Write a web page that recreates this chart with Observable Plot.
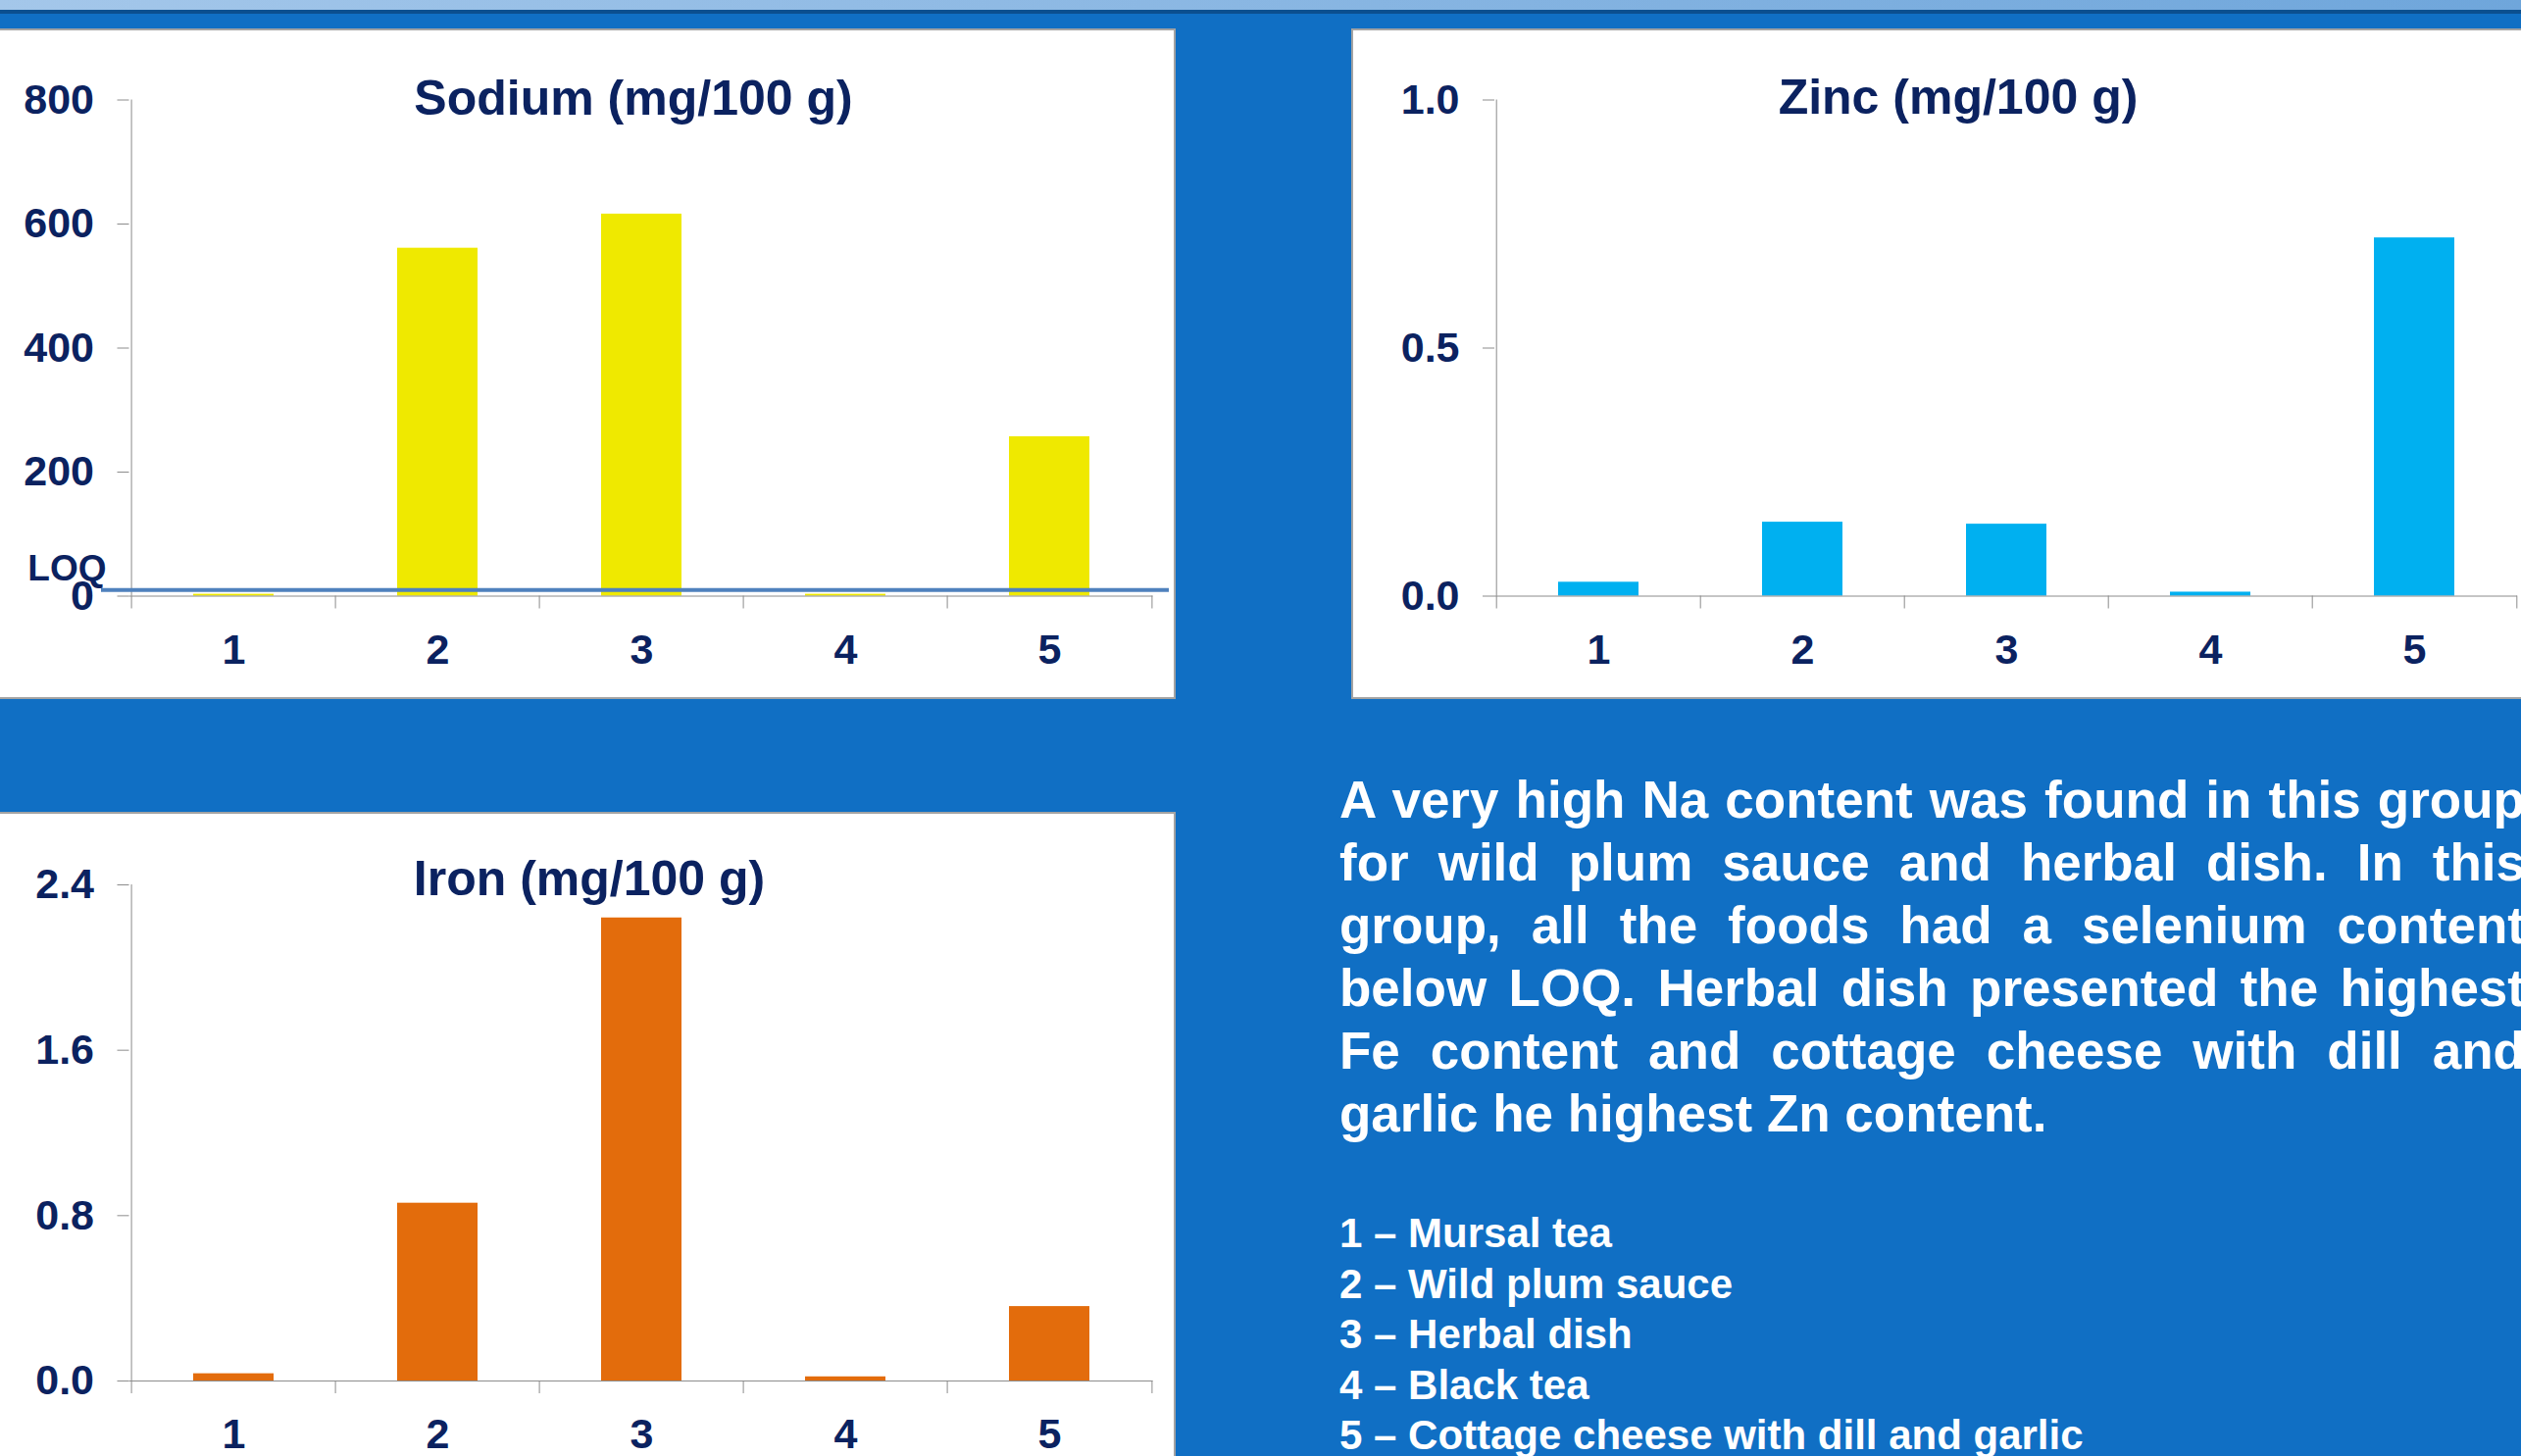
<!DOCTYPE html>
<html>
<head>
<meta charset="utf-8">
<script src="https://cdn.jsdelivr.net/npm/d3@7"></script>
<script src="https://cdn.jsdelivr.net/npm/@observablehq/plot@0.6"></script>
<style>
  html, body { margin: 0; padding: 0; }
  body {
    width: 2571px; height: 1485px; overflow: hidden; position: relative;
    background: #106fc4;
    font-family: "Liberation Sans", Arial, sans-serif;
  }
  .strip { position: absolute; left: 0; top: 0; width: 2571px; height: 10px;
    background: linear-gradient(to right, #a4c7ea, #6fa6db); }
  .band { position: absolute; left: 0; top: 10px; width: 2571px; height: 4px; background: #0b4f8f; }
  .panel { position: absolute; background: #fff; border: 2px solid #a3a3a3; box-sizing: border-box; }
  .chart { position: absolute; }
  .chart svg { display: block; max-width: none !important; }
  .title { position: absolute; font-weight: bold; font-size: 50px; line-height: 1;
    color: #0b2260; white-space: nowrap; transform: translateX(-50%); }
  .para { position: absolute; left: 1366px; top: 783.5px; width: 1209px;
    color: #fff; font-weight: bold; font-size: 53px; line-height: 64px; }
  .para div { text-align: justify; text-align-last: justify; }
  .para div.last { text-align: left; text-align-last: left; }
  .legend { position: absolute; left: 1366px; top: 1232px; color: #fff;
    font-weight: bold; font-size: 42px; line-height: 51.5px; white-space: nowrap; }
</style>
</head>
<body>
<div class="strip"></div>
<div class="band"></div>

<div class="panel" style="left:-4px; top:29px; width:1203px; height:684px;"></div>
<div class="panel" style="left:1378px; top:29px; width:1210px; height:684px;"></div>
<div class="panel" style="left:-4px; top:828px; width:1203px; height:700px;"></div>

<div class="chart" id="sodium" style="left:0px; top:30px; width:1198px; height:682px;"></div>
<div class="chart" id="zinc" style="left:1379px; top:30px; width:1200px; height:682px;"></div>
<div class="chart" id="iron" style="left:0px; top:829px; width:1198px; height:656px;"></div>

<div class="title" style="left:646px; top:75px;">Sodium (mg/100 g)</div>
<div class="title" style="left:1997px; top:74px;">Zinc (mg/100 g)</div>
<div class="title" style="left:601px; top:871px;">Iron (mg/100 g)</div>

<div class="para" id="para"></div>
<div class="legend" id="legend"></div>

<script>
// Food items (x categories) and their names
const items = ["1", "2", "3", "4", "5"];
const itemNames = ["Mursal tea", "Wild plum sauce", "Herbal dish", "Black tea", "Cottage cheese with dill and garlic"];

// Mineral content per item (mg/100 g)
const sodium = [3, 561, 616, 3, 257];
const zinc = [0.028, 0.149, 0.145, 0.008, 0.722];
const iron = [0.035, 0.86, 2.24, 0.02, 0.36];

// Limit of quantification shown on the sodium chart
const sodiumLOQ = 10;

// Y-axis ticks
const sodiumTicks = [0, 200, 400, 600, 800];
const zincTicks = [0, 0.5, 1.0];
const ironTicks = [0, 0.8, 1.6, 2.4];

// Summary text, one entry per justified line
const summaryLines = [
  "A very high Na content was found in this group",
  "for wild plum sauce and herbal dish. In this",
  "group, all the foods had a selenium content",
  "below LOQ. Herbal dish presented the highest",
  "Fe content and cottage cheese with dill and",
  "garlic he highest Zn content."
];

const navy = "#0b2260";
const axisGray = "#8c8c8c";

function barChart({values, fill, yMax, yTicks, yFormat, width, height,
                   marginLeft, marginRight, marginTop, marginBottom, loq}) {
  const rows = items.map((item, i) => ({item, value: values[i]}));
  const step = (width - marginLeft - marginRight) / items.length;
  const marks = [
    // vertical axis line along the left edge of the plot area
    Plot.ruleX([items[0]], {x: d => d, y1: 0, y2: yMax, dx: -step / 2, stroke: axisGray}),
    Plot.barY(rows, {x: "item", y: "value", fill}),
    Plot.ruleY([0], {stroke: axisGray}),
    Plot.axisY({ticks: yTicks, tickFormat: yFormat, tickSize: 12, tickPadding: 24,
      stroke: axisGray, fill: navy, fontSize: 43, fontWeight: "bold", label: null}),
    Plot.axisX({tickSize: 0, tickPadding: 38, fill: navy, fontSize: 43, fontWeight: "bold", label: null}),
    // category separator ticks below the horizontal axis
    Plot.axisX({tickSize: 13, fill: "none", stroke: axisGray, dx: -step / 2, label: null}),
    Plot.axisX({ticks: [items[items.length - 1]], tickSize: 13, fill: "none", stroke: axisGray, dx: step / 2, label: null})
  ];
  if (loq != null) {
    marks.push(
      Plot.ruleY([loq], {stroke: "#4f81bd", strokeWidth: 4, insetLeft: -28.5, insetRight: -16.5}),
      Plot.text([loq], {y: d => d, text: () => "LOQ", frameAnchor: "left", textAnchor: "end",
        dx: -23.5, dy: -22, fill: navy, fontSize: 37, fontWeight: "bold"})
    );
  }
  return Plot.plot({
    width, height, marginLeft, marginRight, marginTop, marginBottom,
    style: {background: "transparent", fontFamily: "'Liberation Sans', Arial, sans-serif",
      fontWeight: "bold", color: navy, overflow: "visible", maxWidth: "none"},
    x: {type: "band", domain: items, paddingInner: 0.607, paddingOuter: 0.3035, align: 0.5, label: null},
    y: {domain: [0, yMax], label: null},
    marks
  });
}

document.getElementById("sodium").append(barChart({
  values: sodium, fill: "#efe900", yMax: 800, yTicks: sodiumTicks, yFormat: d3.format("d"),
  width: 1198, height: 682, marginLeft: 131.5, marginRight: 22.5, marginTop: 71.5, marginBottom: 104.5,
  loq: sodiumLOQ
}));

document.getElementById("zinc").append(barChart({
  values: zinc, fill: "#00b0f0", yMax: 1.0, yTicks: zincTicks, yFormat: d3.format(".1f"),
  width: 1200, height: 682, marginLeft: 145, marginRight: 12, marginTop: 71.5, marginBottom: 104.5
}));

document.getElementById("iron").append(barChart({
  values: iron, fill: "#e36c0c", yMax: 2.4, yTicks: ironTicks, yFormat: d3.format(".1f"),
  width: 1198, height: 656, marginLeft: 131.5, marginRight: 22.5, marginTop: 73, marginBottom: 77
}));

const para = document.getElementById("para");
summaryLines.forEach((line, i) => {
  const div = document.createElement("div");
  div.textContent = line;
  if (i === summaryLines.length - 1) div.className = "last";
  para.append(div);
});

const legend = document.getElementById("legend");
items.forEach((item, i) => {
  const div = document.createElement("div");
  div.textContent = `${item} – ${itemNames[i]}`;
  legend.append(div);
});
</script>
</body>
</html>
